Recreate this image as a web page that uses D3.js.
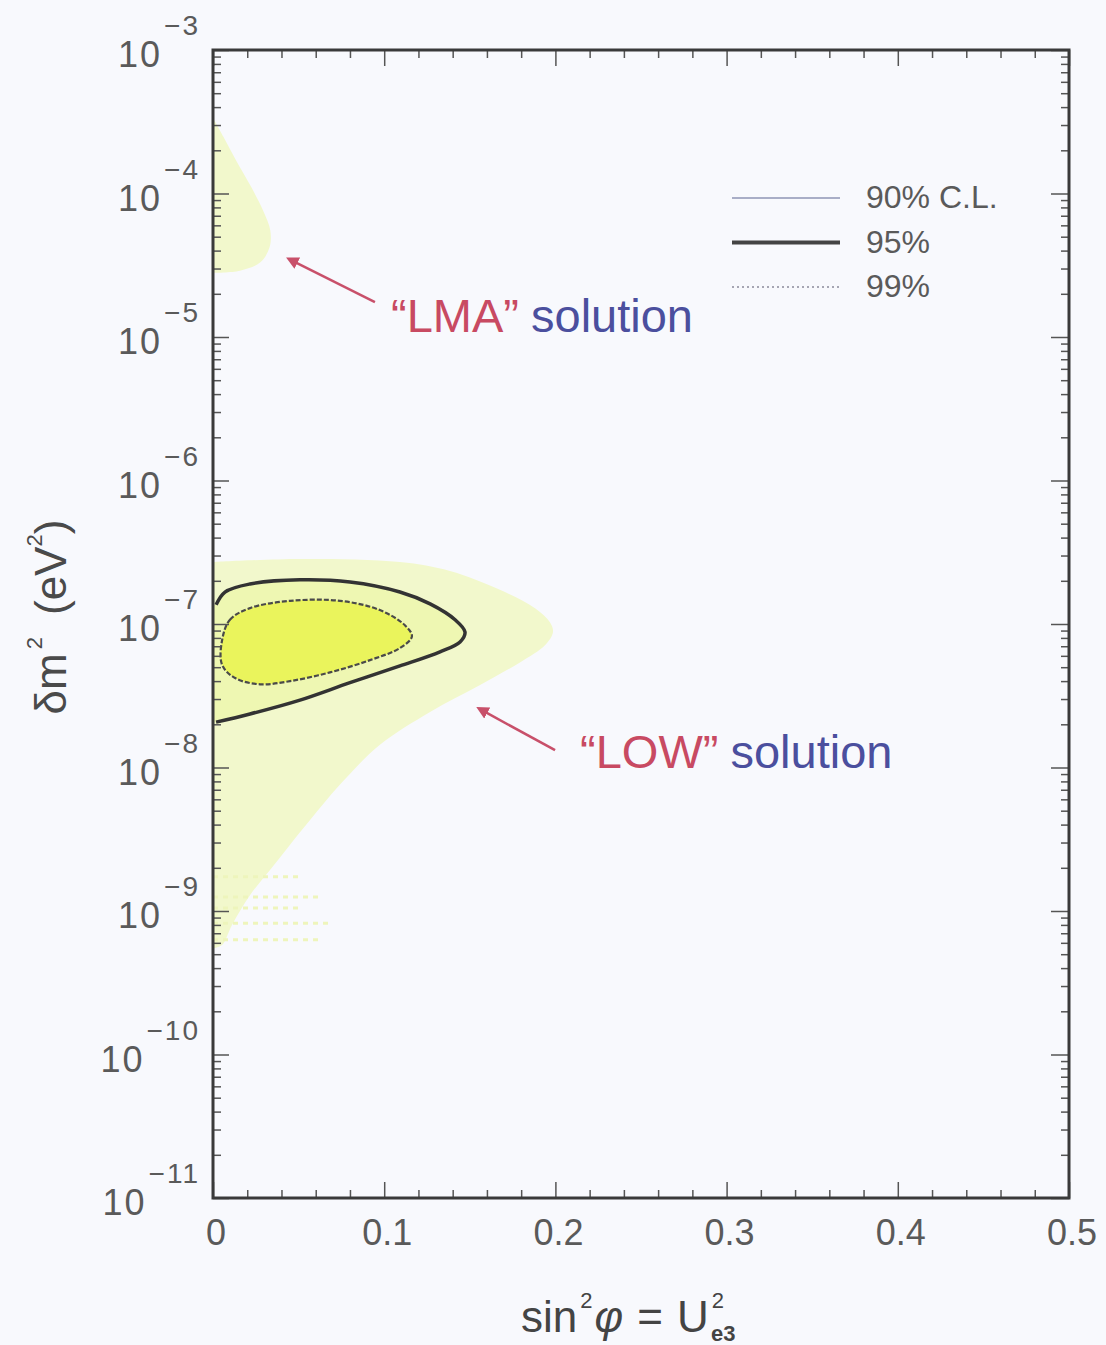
<!DOCTYPE html>
<html>
<head>
<meta charset="utf-8">
<script src="https://cdn.jsdelivr.net/npm/d3@7"></script>
<style>
  body { margin: 0; background: #f8f9fd; }
  text { font-family: "Liberation Sans", Arial, sans-serif; }
</style>
</head>
<body>
<div id="chart"></div>
<script>
// ---- data ----
var xTickValues = [0, 0.1, 0.2, 0.3, 0.4, 0.5];
var xTickLabels = ["0", "0.1", "0.2", "0.3", "0.4", "0.5"];
var yExponents = [-11, -10, -9, -8, -7, -6, -5, -4, -3];

// contour outlines as [sin2phi, dm2 (eV^2)]
var lma99 = [[0, 3.36e-4], [0.006, 2.5e-4], [0.0135, 1.7e-4], [0.0225, 1.1e-4], [0.0295, 7.5e-5],
  [0.0335, 5.5e-5], [0.0330, 4.2e-5], [0.0275, 3.3e-5], [0.0158, 2.9e-5], [0, 2.8e-5]];

var low99 = [[0, 2.70e-7], [0.0508, 2.84e-7], [0.1092, 2.70e-7], [0.1384, 2.34e-7], [0.1676, 1.73e-7],
  [0.1881, 1.29e-7], [0.1968, 1.03e-7], [0.1986, 8.8e-8], [0.1939, 7.1e-8], [0.1793, 5.4e-8],
  [0.1560, 3.76e-8], [0.1268, 2.44e-8], [0.0975, 1.44e-8], [0.0742, 7.6e-9], [0.0567, 4.3e-9],
  [0.0450, 2.9e-9], [0.0333, 1.93e-9], [0.0216, 1.29e-9], [0.0111, 8.0e-10], [0.0053, 5.8e-10],
  [0, 5.5e-10]];

var low95 = [[0.0018, 1.36e-7], [0.0070, 1.67e-7], [0.0216, 1.90e-7], [0.0508, 2.03e-7], [0.0800, 1.96e-7],
  [0.1092, 1.67e-7], [0.1268, 1.38e-7], [0.1414, 1.07e-7], [0.1472, 8.8e-8], [0.1443, 7.5e-8],
  [0.1326, 6.4e-8], [0.1092, 5.1e-8], [0.0800, 3.9e-8], [0.0508, 2.95e-8], [0.0216, 2.36e-8],
  [0.0018, 2.07e-8]];

var low90 = [[0.0053, 7.7e-8], [0.0099, 1.07e-7], [0.0216, 1.29e-7], [0.0450, 1.45e-7], [0.0742, 1.45e-7],
  [0.0975, 1.25e-7], [0.1121, 9.8e-8], [0.1162, 8.2e-8], [0.1092, 6.8e-8], [0.0917, 5.6e-8],
  [0.0683, 4.6e-8], [0.0450, 4.0e-8], [0.0275, 3.8e-8], [0.0129, 4.2e-8], [0.0053, 5.2e-8]];

// ragged tail of the LOW region: [dm2, sin2phi end]
var lowTail = [[1.73e-9, 0.051], [1.25e-9, 0.0625], [1.05e-9, 0.051], [8.2e-10, 0.068], [6.3e-10, 0.0625]];

var legendLabels = ["90% C.L.", "95%", "99%"];

// annotations: arrow [from, to] and label anchor, in data units
var lmaArrow = [[0.0946, 1.75e-5], [0.0479, 3.33e-5]];
var lmaLabel = [0.104, 1.08e-5];
var lowArrow = [[0.1998, 1.32e-8], [0.1589, 2.44e-8]];
var lowLabel = [0.2144, 9.9e-9];

// ---- chart ----
var svgWidth = 1106;
var svgHeight = 1345;
var margin = { top: 50, right: 37, bottom: 147, left: 213 };
var width = svgWidth - margin.left - margin.right;
var height = svgHeight - margin.top - margin.bottom;

var svg = d3.select("#chart").append("svg")
  .attr("width", svgWidth)
  .attr("height", svgHeight);

svg.append("rect").attr("width", svgWidth).attr("height", svgHeight).attr("fill", "#f8f9fd");

var defs = svg.append("defs");
defs.append("clipPath").attr("id", "plotClip")
  .append("rect").attr("width", width).attr("height", height);
defs.append("marker").attr("id", "arrowHead")
  .attr("viewBox", "0 0 10 10").attr("refX", 2).attr("refY", 5)
  .attr("markerWidth", 5).attr("markerHeight", 5).attr("orient", "auto-start-reverse")
  .append("path").attr("d", "M0,0 L10,5 L0,10 z").attr("fill", "#c8506a");

var chartGroup = svg.append("g")
  .attr("transform", `translate(${margin.left}, ${margin.top})`);

var xScale = d3.scaleLinear().domain([0, 0.5]).range([0, width]);
var yScale = d3.scaleLog().domain([1e-11, 1e-3]).range([height, 0]);

var line = d3.line().x(d => xScale(d[0])).y(d => yScale(d[1]));

var plot = chartGroup.append("g").attr("clip-path", "url(#plotClip)");

// 99% regions (straight edge along the axis)
plot.append("path")
  .attr("d", line.curve(d3.curveCatmullRom)(lma99) + "Z")
  .attr("fill", "#f2f8cc");
plot.append("path")
  .attr("d", line.curve(d3.curveCatmullRom)(low99) + "Z")
  .attr("fill", "#f2f8cc");

plot.selectAll(".tail")
  .data(lowTail)
  .enter()
  .append("line")
  .attr("class", "tail")
  .attr("x1", xScale(0))
  .attr("x2", d => xScale(d[1]))
  .attr("y1", d => yScale(d[0]))
  .attr("y2", d => yScale(d[0]))
  .attr("stroke", "#eef5bc")
  .attr("stroke-width", 3)
  .attr("stroke-dasharray", "5 5");

// 95% region
var fill95 = [[0, low95[0][1]]].concat(low95, [[0, low95[low95.length - 1][1]]]);
plot.append("path")
  .attr("d", line.curve(d3.curveCatmullRom)(fill95) + "Z")
  .attr("fill", "#eef7b2");

// 90% region
plot.append("path")
  .attr("d", line.curve(d3.curveCatmullRomClosed)(low90))
  .attr("fill", "#eaf45c")
  .attr("stroke", "#4a4a4a")
  .attr("stroke-width", 2.2)
  .attr("stroke-dasharray", "5 2");

plot.append("path")
  .attr("d", line.curve(d3.curveCatmullRom)(low95))
  .attr("fill", "none")
  .attr("stroke", "#333")
  .attr("stroke-width", 3.5);

// axes (ticks point inward)
var minorY = [];
yExponents.slice(0, -1).forEach(function(e) {
  for (var k = 2; k <= 9; k++) minorY.push(k * Math.pow(10, e));
});
var majorY = yExponents.map(e => Math.pow(10, e));
var minorX = d3.range(0, 26).map(i => i * 0.02).filter(v => Math.abs(v * 10 - Math.round(v * 10)) > 1e-6);

function styleAxis(g) {
  g.select(".domain").remove();
  g.selectAll("line").attr("stroke", "#555").attr("stroke-width", 1.5);
  g.selectAll("text").remove();
}

chartGroup.append("g").call(d3.axisLeft(yScale).tickValues(majorY).tickSize(-16)).call(styleAxis);
chartGroup.append("g").call(d3.axisLeft(yScale).tickValues(minorY).tickSize(-8)).call(styleAxis);
chartGroup.append("g").attr("transform", `translate(${width}, 0)`)
  .call(d3.axisRight(yScale).tickValues(majorY).tickSize(-18)).call(styleAxis);
chartGroup.append("g").attr("transform", `translate(${width}, 0)`)
  .call(d3.axisRight(yScale).tickValues(minorY).tickSize(-8)).call(styleAxis);

chartGroup.append("g").attr("transform", `translate(0, ${height})`)
  .call(d3.axisBottom(xScale).tickValues(xTickValues).tickSize(-16)).call(styleAxis);
chartGroup.append("g").attr("transform", `translate(0, ${height})`)
  .call(d3.axisBottom(xScale).tickValues(minorX).tickSize(-8)).call(styleAxis);
chartGroup.append("g")
  .call(d3.axisTop(xScale).tickValues(xTickValues).tickSize(-16)).call(styleAxis);
chartGroup.append("g")
  .call(d3.axisTop(xScale).tickValues(minorX).tickSize(-8)).call(styleAxis);

// frame
chartGroup.append("rect")
  .attr("width", width).attr("height", height)
  .attr("fill", "none").attr("stroke", "#3a3a3a").attr("stroke-width", 3);

// y tick labels: 10^e
var yLab = chartGroup.selectAll(".yLab")
  .data(yExponents)
  .enter()
  .append("text")
  .attr("class", "yLab")
  .attr("text-anchor", "end")
  .attr("x", -13)
  .attr("y", e => yScale(Math.pow(10, e)) + 17)
  .attr("fill", "#5a5a5a");
yLab.append("tspan").attr("font-size", 36).attr("letter-spacing", 2).text("10");
yLab.append("tspan").attr("font-size", 28).attr("dy", -32).attr("dx", 2)
  .attr("letter-spacing", 2).text(e => "\u2212" + Math.abs(e));

// x tick labels
chartGroup.selectAll(".xLab")
  .data(xTickValues)
  .enter()
  .append("text")
  .attr("class", "xLab")
  .attr("text-anchor", "middle")
  .attr("x", d => xScale(d) + 3)
  .attr("y", height + 47)
  .attr("font-size", 36)
  .attr("fill", "#5a5a5a")
  .text((d, i) => xTickLabels[i]);

// axis titles
var xTitle = svg.append("text")
  .attr("x", 521).attr("y", 1332)
  .attr("font-size", 44).attr("fill", "#444");
xTitle.append("tspan").text("sin");
xTitle.append("tspan").attr("font-size", 22).attr("dy", -24).attr("dx", 3).text("2");
xTitle.append("tspan").attr("dy", 24).attr("dx", 2).attr("font-style", "italic").text("\u03c6");
xTitle.append("tspan").attr("dx", 14).text("=");
xTitle.append("tspan").attr("dx", 14).text("U");
xTitle.append("tspan").attr("font-size", 22).attr("dy", -24).attr("dx", 3).text("2");
xTitle.append("tspan").attr("font-size", 22).attr("font-weight", "bold").attr("dy", 33).attr("dx", -13).text("e3");

var yTitle = svg.append("text")
  .attr("transform", "translate(66, 617) rotate(-90)")
  .attr("text-anchor", "middle")
  .attr("font-size", 44).attr("fill", "#4a4a4a");
yTitle.append("tspan").text("\u03b4m");
yTitle.append("tspan").attr("font-size", 22).attr("dy", -24).attr("dx", 4).text("2");
yTitle.append("tspan").attr("dy", 24).attr("dx", 22).text("(eV");
yTitle.append("tspan").attr("font-size", 22).attr("dy", -24).text("2");
yTitle.append("tspan").attr("dy", 24).text(")");

// legend
var legend = svg.append("g").attr("transform", "translate(732, 198)");
var legendRows = legend.selectAll(".legendRow")
  .data(legendLabels)
  .enter()
  .append("g")
  .attr("class", "legendRow")
  .attr("transform", (d, i) => `translate(0, ${i * 44.5})`);
legendRows.append("line")
  .attr("x1", 0).attr("x2", 108).attr("y1", 0).attr("y2", 0)
  .attr("stroke", (d, i) => ["#8f95b4", "#444", "#8a8a9a"][i])
  .attr("stroke-width", (d, i) => [1.5, 4, 1.5][i])
  .attr("stroke-dasharray", (d, i) => i === 2 ? "2 3" : null);
legendRows.append("text")
  .attr("x", 134).attr("y", 10)
  .attr("font-size", 32).attr("fill", "#5a5a5a")
  .text(d => d);

// annotations
function annotate(arrow, label, name) {
  chartGroup.append("line")
    .attr("x1", xScale(arrow[0][0])).attr("y1", yScale(arrow[0][1]))
    .attr("x2", xScale(arrow[1][0])).attr("y2", yScale(arrow[1][1]))
    .attr("stroke", "#c8506a").attr("stroke-width", 2.5)
    .attr("marker-end", "url(#arrowHead)");
  var t = chartGroup.append("text")
    .attr("x", xScale(label[0])).attr("y", yScale(label[1]))
    .attr("font-size", 47);
  t.append("tspan").attr("fill", "#c84a62").text("\u201c" + name + "\u201d");
  t.append("tspan").attr("fill", "#4b4f9e").attr("dx", 12).text("solution");
}
annotate(lmaArrow, lmaLabel, "LMA");
annotate(lowArrow, lowLabel, "LOW");
</script>
</body>
</html>
